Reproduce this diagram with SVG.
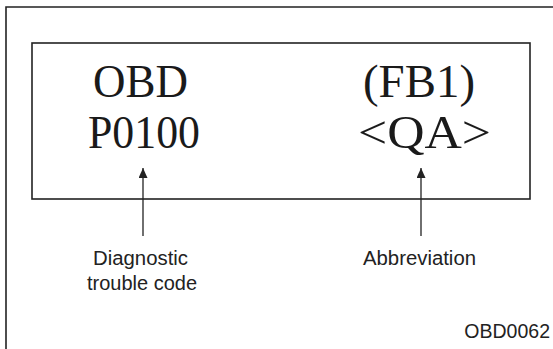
<svg xmlns="http://www.w3.org/2000/svg" width="553" height="349" viewBox="0 0 553 349">
<style>
.frame{fill:none;stroke:#222;stroke-width:1.6}
.big{font-family:"Liberation Serif","Times New Roman",serif;font-size:47px;fill:#1a1a1a}
.lbl{font-family:"Liberation Sans",Arial,sans-serif;font-size:19.5px;fill:#222}
.conn{stroke:#222;stroke-width:1.3;fill:none}
</style>
<defs>
<marker id="ah" markerWidth="12" markerHeight="10" refX="10" refY="4.5" orient="auto" markerUnits="userSpaceOnUse">
<path d="M0,0 L10,4.5 L0,9 Z" fill="#222"/>
</marker>
</defs>
<path class="frame" d="M6,349 V7 H553"/>
<g id="display">
<rect class="frame" x="32" y="43" width="498" height="156"/>
<text class="big" x="93" y="97" textLength="95" lengthAdjust="spacingAndGlyphs">OBD</text>
<text class="big" x="363" y="97" textLength="112" lengthAdjust="spacingAndGlyphs">(FB1)</text>
<text class="big" x="88" y="148" textLength="112" lengthAdjust="spacingAndGlyphs">P0100</text>
<text class="big" x="358" y="148" textLength="133" lengthAdjust="spacingAndGlyphs">&lt;QA&gt;</text>
</g>
<g id="connectors">
<line class="conn" x1="143" y1="236" x2="143" y2="168" marker-end="url(#ah)"/>
<line class="conn" x1="421" y1="236" x2="421" y2="168" marker-end="url(#ah)"/>
</g>
<g id="label-dtc">
<text class="lbl" x="93" y="265" textLength="95" lengthAdjust="spacingAndGlyphs">Diagnostic</text>
<text class="lbl" x="87" y="290" textLength="110" lengthAdjust="spacingAndGlyphs">trouble code</text>
</g>
<g id="label-abbr">
<text class="lbl" x="363" y="265" textLength="113" lengthAdjust="spacingAndGlyphs">Abbreviation</text>
</g>
<text class="lbl" x="550" y="338" text-anchor="end">OBD0062</text>
</svg>
